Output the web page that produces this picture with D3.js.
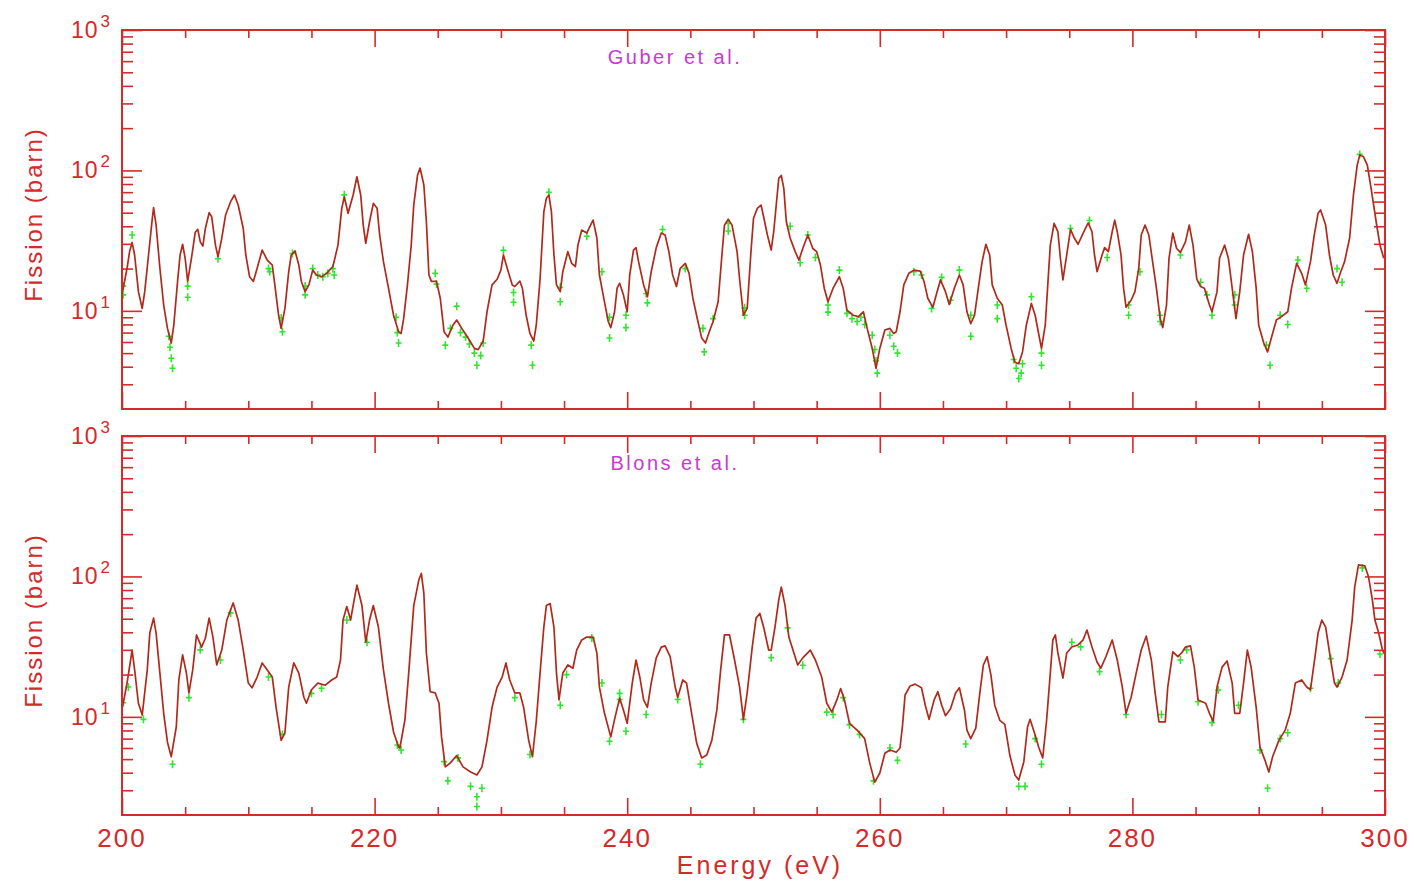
<!DOCTYPE html>
<html>
<head>
<meta charset="utf-8">
<script src="https://cdn.jsdelivr.net/npm/d3@7"></script>
<style>
  body { margin: 0; background: #fff; }
  svg { display: block; }
  text { font-family: "Liberation Sans", Arial, sans-serif; }
</style>
</head>
<body>
<svg id="chart" width="1417" height="884"></svg>
<script>
// fitted curve, Guber et al. panel: [energy (eV), fission (barn)]
const guberFit = [[200.0,13.5],[200.1,14.5],[200.4,20.1],[200.6,26.4],[200.8,30.7],[201.0,25],[201.3,13.7],[201.6,10.4],[201.8,13.7],[202.1,25],[202.4,45.6],[202.5,54.3],[202.7,40.8],[203.0,20.1],[203.3,11],[203.6,7.5],[203.9,5.9],[204.1,7.9],[204.4,16.2],[204.6,25],[204.8,29.8],[205.0,23.7],[205.2,16.2],[205.5,23.7],[205.8,36.3],[206.0,38],[206.2,31],[206.4,28.9],[206.6,38.6],[206.9,50],[207.1,46.8],[207.4,29.4],[207.6,24.3],[207.9,32.9],[208.2,48.1],[208.6,59.9],[208.9,66.8],[209.2,56.7],[209.6,38.6],[209.8,25],[210.1,17.5],[210.4,16.2],[210.7,20.1],[211.1,27.1],[211.5,23],[211.9,21.2],[212.1,15.3],[212.4,9.3],[212.6,7.5],[212.9,10.4],[213.2,19],[213.4,25],[213.7,26.7],[214.0,21.2],[214.2,16.2],[214.5,13.7],[214.8,15.3],[215.1,19.5],[215.4,18],[215.8,17.5],[216.2,18.5],[216.7,20.7],[217.1,29.4],[217.4,53.7],[217.6,64.9],[217.9,49.5],[218.3,66.8],[218.6,90.1],[218.9,66.8],[219.1,40.8],[219.3,30.2],[219.6,43.1],[219.9,58.3],[220.2,53.7],[220.4,34.7],[220.7,22.4],[221.1,14.5],[221.5,9.3],[221.9,7.1],[222.1,6.9],[222.3,8.8],[222.6,15.3],[222.9,29.4],[223.1,56.7],[223.4,92.7],[223.6,104],[223.9,78.7],[224.1,43.1],[224.3,18],[224.5,16.2],[224.9,16.2],[225.2,12.3],[225.5,7.1],[225.8,6.5],[226.2,7.9],[226.5,8.6],[226.9,7.5],[227.4,6.4],[227.9,5.4],[228.2,5.3],[228.6,6.1],[228.9,9.85],[229.3,15.3],[229.7,16.8],[230.0,19.5],[230.2,25],[230.5,20.1],[230.9,15.3],[231.1,14.9],[231.5,16.3],[231.7,14.5],[232.0,9.3],[232.3,6.9],[232.6,6.1],[232.8,7.9],[233.1,16.8],[233.4,50.8],[233.6,63.3],[233.8,66.8],[234.0,50.8],[234.2,25],[234.4,15.3],[234.7,13.7],[234.9,19],[235.3,26.4],[235.6,21.8],[235.9,20.7],[236.1,29.4],[236.4,37.6],[236.8,35.8],[237.1,40.8],[237.3,44.3],[237.6,33],[237.8,18],[238.2,11.6],[238.5,8.4],[238.7,7.6],[239.0,9.85],[239.2,14.5],[239.4,15.7],[239.7,13],[240.0,9.85],[240.2,18],[240.5,27.1],[240.7,28.2],[240.9,22.4],[241.3,15.3],[241.6,12.6],[241.9,19],[242.3,28.2],[242.7,35.8],[243.0,34.7],[243.3,26.4],[243.6,18],[243.9,14.9],[244.2,20.1],[244.6,21.8],[244.9,18.5],[245.2,12.3],[245.6,8.4],[245.9,6.4],[246.2,5.9],[246.5,7.1],[246.8,8.4],[247.2,11.6],[247.5,25],[247.7,40.8],[248.0,44.9],[248.3,40.8],[248.7,26.4],[248.9,16.8],[249.2,9.3],[249.5,10.4],[249.8,26.4],[250.0,45.6],[250.3,53.7],[250.6,56.7],[250.8,46.8],[251.1,34.7],[251.4,27.1],[251.6,36.6],[251.8,56.7],[252.0,87.8],[252.2,92],[252.4,74.5],[252.6,43.1],[252.9,33],[253.3,26.4],[253.6,23],[253.9,27.8],[254.3,34.7],[254.7,27.8],[255.0,26.4],[255.3,21.2],[255.6,14.5],[255.9,11.6],[256.3,14.5],[256.8,17.5],[257.1,14.5],[257.4,10.1],[257.9,9.3],[258.3,9.1],[258.7,9.85],[259.0,7.5],[259.4,5.4],[259.7,3.9],[260.0,5.4],[260.4,7.3],[260.8,7.5],[261.1,6.9],[261.3,7.1],[261.6,9.85],[261.9,15.3],[262.3,18.5],[262.7,19.5],[263.2,19.2],[263.5,16.2],[263.8,12.3],[264.2,10.6],[264.5,13.3],[264.8,16.6],[265.2,13.7],[265.5,11.1],[265.9,14.5],[266.3,18],[266.6,15.3],[266.9,9.85],[267.2,8.1],[267.5,9.3],[267.8,14.5],[268.1,22.4],[268.4,29.8],[268.7,25],[268.9,15.3],[269.3,12.3],[269.7,11],[270.0,7.9],[270.4,5.4],[270.7,4.3],[271.0,4.2],[271.3,5.1],[271.6,7.9],[272.0,11.3],[272.3,9.3],[272.6,6.7],[272.8,5.4],[273.1,7.9],[273.3,15.3],[273.5,29.4],[273.8,42],[274.1,36.6],[274.3,23.7],[274.5,16.6],[274.8,25],[275.1,38],[275.4,33],[275.7,29.8],[276.1,35.8],[276.5,42.3],[276.8,36.6],[277.0,25],[277.2,19],[277.6,25],[277.8,28.2],[278.1,26.4],[278.4,36.6],[278.6,44.3],[278.8,36.6],[279.1,25],[279.3,14.5],[279.5,10.6],[279.9,11.9],[280.2,13.7],[280.5,20.1],[280.7,34.7],[281.0,40.8],[281.3,34.7],[281.6,22.4],[281.9,14.5],[282.2,8.8],[282.4,7.6],[282.7,11],[282.9,23.7],[283.2,35.8],[283.5,27.8],[283.8,26.1],[284.2,31],[284.5,40.8],[284.8,29.4],[285.1,16.8],[285.4,14.9],[285.7,14.5],[286.1,11],[286.3,9.85],[286.7,13.7],[286.9,23.7],[287.3,29.4],[287.6,23.7],[287.9,14.5],[288.2,8.8],[288.5,13.7],[288.8,25],[289.2,35.1],[289.5,26.4],[289.8,14.5],[290.0,7.9],[290.4,5.9],[290.7,5.1],[291.0,6.4],[291.4,8.6],[291.8,9.1],[292.3,9.85],[292.6,14.5],[293.0,21.8],[293.4,18.5],[293.7,15.3],[294.1,22.4],[294.4,34.7],[294.7,49.5],[294.9,52.3],[295.3,40.8],[295.6,25],[295.9,18],[296.2,15.7],[296.5,19],[296.8,22.4],[297.2,33],[297.5,66.8],[297.8,109],[298.0,129],[298.3,125],[298.6,109],[298.9,74.5],[299.3,43.1],[299.6,29.4],[299.9,23.7]]

// measured points, Guber et al.
const guberData = [[200.1,15],[200.1,13],[200.8,34.7],[203.7,6.6],[203.8,5.5],[203.9,4.6],[204.0,3.9],[205.2,15],[205.2,12.5],[207.6,23.5],[211.6,20],[211.7,19],[212.6,8.9],[212.7,7.1],[213.5,25.6],[214.5,15],[214.5,13],[215.1,20],[215.5,18],[215.9,17.5],[216.3,18.5],[216.7,20],[216.8,18],[217.6,67],[221.7,9],[221.8,7],[221.9,5.9],[224.8,18.5],[224.9,15.5],[225.6,5.7],[226.0,7.5],[226.5,10.8],[226.8,7.0],[227.2,6.5],[227.5,5.8],[227.9,5.0],[228.1,4.1],[228.4,4.8],[228.6,5.9],[230.2,27],[231.0,13.5],[231.0,11.5],[232.4,5.7],[232.5,4.1],[233.8,70],[234.7,14.7],[234.7,11.6],[236.8,34],[238.0,19],[238.6,9],[238.6,6.4],[239.9,9.3],[239.9,7.6],[241.5,13.3],[241.6,11.4],[242.8,38],[244.6,20],[246.0,7.5],[246.1,5.1],[246.8,8.8],[248.0,42],[248.0,37],[249.3,10.5],[249.3,9.3],[252.9,40],[253.7,22],[254.3,34.7],[254.9,24],[255.9,11],[255.9,9.8],[256.8,19.5],[257.4,9.6],[257.8,8.8],[258.2,8.4],[258.5,9.0],[258.8,8.0],[259.4,6.7],[259.6,5.3],[259.7,4.4],[259.8,3.6],[260.8,6.7],[261.1,5.6],[261.4,5.0],[262.7,19],[263.3,18],[264.1,10.4],[264.9,17.3],[265.6,11.9],[266.3,19.5],[267.2,9.3],[267.2,6.6],[269.3,11],[269.3,8.8],[270.6,4.5],[270.8,3.9],[271.0,3.3],[271.2,3.6],[271.3,4.2],[272.0,12.6],[272.8,5.0],[272.8,4.1],[275.1,38.6],[276.6,44],[278.0,24],[279.7,11],[279.7,9.3],[280.6,19],[282.2,9.3],[282.2,8.4],[283.8,25],[285.4,16],[285.9,13],[286.3,9.3],[288.1,13],[288.1,11],[290.6,5.7],[290.9,4.1],[291.7,9.3],[292.3,8.0],[293.1,23],[293.8,14.5],[296.2,20],[296.6,16],[298.0,130]]

// fitted curve, Blons et al. panel
const blonsFit = [[200.0,11.5],[200.1,12.5],[200.4,17.4],[200.8,29.9],[201.0,21.6],[201.3,12.5],[201.6,10.3],[202.0,21.6],[202.2,39.5],[202.5,50.5],[202.7,39.5],[203.0,20.5],[203.3,10.6],[203.6,6.6],[203.9,5.2],[204.3,8.5],[204.5,18.3],[204.8,27.6],[205.1,20.5],[205.3,14.8],[205.6,21.6],[205.9,38.3],[206.3,31.4],[206.6,36.3],[206.9,50.5],[207.2,37],[207.5,23.4],[207.9,29.9],[208.3,48.9],[208.8,64.7],[209.2,48.9],[209.6,29.9],[210.0,17.4],[210.3,16.1],[210.7,19.2],[211.1,24.2],[211.5,21.6],[211.9,19.2],[212.2,11.7],[212.6,6.8],[212.9,7.7],[213.2,16.3],[213.6,24.2],[214.0,20.5],[214.4,13.8],[214.6,12.5],[215.0,15.6],[215.5,17.4],[216.1,16.8],[216.6,18.3],[217.0,19.2],[217.3,25.4],[217.5,48.9],[217.8,61],[218.1,48.9],[218.3,62],[218.6,86.7],[219.0,62],[219.3,34.1],[219.6,48.9],[219.9,62],[220.3,43.6],[220.7,21.6],[221.1,12.5],[221.5,7.8],[221.9,6.1],[222.0,6.0],[222.4,9.5],[222.7,20.5],[223.1,62],[223.5,94.2],[223.7,105],[223.9,76],[224.1,28.5],[224.4,15.1],[224.8,14.8],[225.1,12.5],[225.3,7.2],[225.6,4.4],[226.0,4.7],[226.5,5.3],[227.0,4.4],[227.6,4.05],[228.1,3.85],[228.5,4.4],[228.9,6.8],[229.3,11.7],[229.7,16.3],[230.1,19.2],[230.4,24.2],[230.7,18.3],[231.1,14.8],[231.5,14.8],[231.8,11.7],[232.2,6.8],[232.5,5.2],[232.8,9.3],[233.1,20.5],[233.4,43.6],[233.6,62],[233.9,64.1],[234.2,43.6],[234.4,20.5],[234.6,13.2],[234.9,20.5],[235.3,23.4],[235.7,22.2],[236.0,29.9],[236.4,35.3],[236.8,37],[237.3,37],[237.6,28.5],[237.8,16.3],[238.2,10.6],[238.7,7.2],[239.0,9.6],[239.4,13.6],[239.7,11.2],[240.0,9.0],[240.4,17.4],[240.7,25.4],[241.0,19.2],[241.3,13.2],[241.6,11.7],[241.9,17.4],[242.3,26.3],[242.7,31.4],[243.0,32],[243.4,26.8],[243.8,16.3],[244.0,13.8],[244.4,18.3],[244.7,17.4],[245.1,10.6],[245.5,6.5],[245.9,5.1],[246.3,5.35],[246.7,6.8],[247.1,11.2],[247.4,21.6],[247.7,38.3],[248.1,38.3],[248.5,25.4],[248.9,16.3],[249.2,9.6],[249.5,14.8],[249.9,31.4],[250.2,50.5],[250.5,54.5],[250.8,43.6],[251.2,29.9],[251.4,29.9],[251.7,43.6],[252.0,68],[252.2,83.9],[252.5,62],[252.8,37],[253.2,28.5],[253.5,23.4],[253.9,26.3],[254.5,29.9],[254.9,25.4],[255.4,19.2],[255.8,12.5],[256.2,10.8],[256.6,13.2],[256.9,15.9],[257.2,13.2],[257.6,9.0],[258.2,8.05],[258.8,7.0],[259.2,4.7],[259.6,3.43],[260.0,3.98],[260.4,5.5],[260.8,5.8],[261.3,5.6],[261.6,6.0],[261.8,8.7],[262.0,14.3],[262.4,16.6],[262.8,17.1],[263.3,16.1],[263.6,12.1],[263.9,9.6],[264.3,13.2],[264.6,15.1],[264.9,12.1],[265.2,10.2],[265.6,11.4],[266.0,14.8],[266.3,16.1],[266.7,11.2],[266.9,8.05],[267.2,7.0],[267.6,8.3],[267.9,14.3],[268.2,23.4],[268.5,26.8],[268.8,19.8],[269.1,12.1],[269.5,9.45],[269.9,8.85],[270.3,5.3],[270.7,3.85],[271.0,3.55],[271.4,4.77],[271.7,8.5],[271.9,9.6],[272.3,7.4],[272.6,6.0],[272.9,5.1],[273.2,9.3],[273.5,20.5],[273.7,35.3],[273.9,38.3],[274.1,28.5],[274.5,18.9],[274.8,28.5],[275.2,31.4],[275.7,32.5],[276.1,35.3],[276.4,41.5],[276.8,31.4],[277.2,24.6],[277.5,22.2],[277.9,26.8],[278.4,35.3],[278.8,25.4],[279.2,16.3],[279.5,10.6],[279.9,13.8],[280.3,20.5],[280.7,29.9],[281.1,37.6],[281.5,25.4],[281.8,14.8],[282.1,9.2],[282.6,9.2],[282.8,16.3],[283.2,29],[283.6,26.8],[283.9,28.5],[284.2,31.4],[284.6,32],[284.9,22.6],[285.2,13.2],[285.8,12.5],[286.1,10.6],[286.4,9.3],[286.7,16.3],[287.1,22.6],[287.5,25],[287.9,17.4],[288.1,10.6],[288.5,10.6],[288.8,17.4],[289.1,29.9],[289.4,22.6],[289.8,11.7],[290.1,6.1],[290.5,4.9],[290.8,4.05],[291.1,5.2],[291.6,6.8],[292.1,8.05],[292.5,10.6],[292.9,17.4],[293.4,18.3],[293.8,16.3],[294.1,15.6],[294.5,28.5],[294.7,39.5],[295.0,48.9],[295.3,43.6],[295.7,25.4],[296.0,17.4],[296.2,16.3],[296.6,19.2],[297.0,25.4],[297.4,48.9],[297.6,83.9],[297.9,121],[298.4,119],[298.7,99],[299.0,68],[299.2,48.9],[299.5,39.5],[299.8,29.9],[300.0,27.6]]

// measured points, Blons et al.
const blonsData = [[200.1,12.6],[200.5,16.3],[201.7,9.6],[204.0,4.6],[205.3,13.7],[206.2,30],[207.8,25.4],[208.6,55],[211.6,19.2],[212.7,7.5],[215.0,14.7],[215.8,16],[217.8,49],[219.4,34],[221.8,6.3],[222.1,5.8],[225.5,4.8],[225.8,3.5],[226.6,5.1],[227.6,3.2],[228.1,2.7],[228.1,2.3],[228.5,3.1],[231.1,13.7],[232.3,5.4],[234.7,12.1],[235.2,20],[237.2,36.4],[238.0,17.4],[238.6,6.7],[239.4,14.7],[239.4,13.3],[239.9,7.9],[241.5,10.4],[244.0,13.3],[245.8,4.6],[249.2,9.6],[251.4,26.4],[252.7,43],[253.9,23.3],[255.8,10.8],[256.3,10.4],[257.1,13.7],[257.6,8.8],[258.4,7.5],[259.5,3.5],[260.8,6.0],[261.4,4.9],[266.8,6.4],[271.0,3.2],[271.5,3.2],[272.3,7.0],[272.8,4.6],[275.2,34],[275.9,31.5],[277.4,21],[279.5,10.4],[282.3,10.4],[283.8,25.4],[284.3,30],[285.2,12.8],[286.3,9.1],[286.8,15.5],[288.4,12.1],[290.1,5.8],[290.7,3.1],[291.7,7.0],[292.3,7.7],[294.1,16],[295.7,26],[296.3,17.4],[298.2,115],[299.6,28]]

const majorX = [200, 220, 240, 260, 280, 300]
const minorX = d3.range(205, 300, 5).filter(d => d % 20 !== 0)
const majorY = [10, 100, 1000]
const minorY = [3, 4, 5, 6, 7, 8, 9, 20, 30, 40, 50, 60, 70, 80, 90, 200, 300, 400, 500, 600, 700, 800, 900]

const red = '#d42a2a'
const lineRed = '#b02a1c'
const green = '#2fe62f'
const magenta = '#c83ad2'

const svg = d3.select('#chart')
const x = d3.scaleLinear().domain([200, 300]).range([122, 1385])

const panels = [
  { top: 30, bottom: 409, title: 'Guber et al.', fit: guberFit, data: guberData },
  { top: 436, bottom: 815, title: 'Blons et al.', fit: blonsFit, data: blonsData },
]

panels.forEach((p, i) => drawPanel(p, i))

function drawPanel(p, i) {
  const y = d3.scaleLog().domain([2, 1000]).range([p.bottom, p.top])
  const g = svg.append('g')

  g.append('clipPath').attr('id', `clip${i}`)
    .append('rect').attr('x', 122).attr('y', p.top).attr('width', 1263).attr('height', p.bottom - p.top)

  const plot = g.append('g').attr('clip-path', `url(#clip${i})`)

  plot.selectAll('path.pt')
    .data(p.data)
    .enter()
    .append('path')
    .attr('class', 'pt')
    .attr('d', d => {
      const px = x(d[0]), py = y(d[1])
      return `M${px - 3},${py}h6M${px},${py - 4}v8`
    })
    .attr('stroke', green)
    .attr('stroke-width', 1.6)
    .attr('fill', 'none')

  const line = d3.line().x(d => x(d[0])).y(d => y(d[1]))
  plot.append('path')
    .datum(p.fit)
    .attr('d', line)
    .attr('fill', 'none')
    .attr('stroke', lineRed)
    .attr('stroke-width', 1.7)
    .attr('stroke-linejoin', 'round')

  // inward ticks on all four sides
  const tick = (gen, values, size, tx, ty) => {
    g.append('g')
      .attr('transform', `translate(${tx},${ty})`)
      .call(gen.tickValues(values).tickSize(size).tickFormat(''))
      .call(s => s.select('.domain').remove())
      .call(s => s.selectAll('line').attr('stroke', red).attr('stroke-width', 1.6))
  }
  tick(d3.axisBottom(x), minorX, -8, 0, p.bottom)
  tick(d3.axisBottom(x), majorX, -17, 0, p.bottom)
  tick(d3.axisTop(x), minorX, -8, 0, p.top)
  tick(d3.axisTop(x), majorX, -17, 0, p.top)
  tick(d3.axisLeft(y), minorY, -11, 122, 0)
  tick(d3.axisLeft(y), majorY, -20, 122, 0)
  tick(d3.axisRight(y), minorY, -11, 1385, 0)
  tick(d3.axisRight(y), majorY, -20, 1385, 0)

  g.append('rect')
    .attr('x', 122).attr('y', p.top)
    .attr('width', 1263).attr('height', p.bottom - p.top)
    .attr('fill', 'none').attr('stroke', red).attr('stroke-width', 2)

  majorY.forEach(v => {
    const t = g.append('text')
      .attr('x', 111).attr('y', y(v) + 8)
      .attr('text-anchor', 'end')
      .attr('fill', red)
      .style('font-size', '23px')
      .style('letter-spacing', '1px')
    t.append('tspan').text('10')
    t.append('tspan').attr('dx', 2).attr('dy', -11).style('font-size', '17px').text(Math.log10(v))
  })

  g.append('text')
    .attr('transform', `translate(42,${(p.top + p.bottom) / 2 - 5}) rotate(-90)`)
    .attr('text-anchor', 'middle')
    .attr('fill', red)
    .style('font-size', '24px')
    .style('letter-spacing', '2px')
    .text('Fission (barn)')

  g.append('text')
    .attr('x', 675).attr('y', p.top + 34)
    .attr('text-anchor', 'middle')
    .attr('fill', magenta)
    .style('font-size', '20px')
    .style('letter-spacing', '2.5px')
    .text(p.title)

  if (i === 1) {
    majorX.forEach(v => {
      g.append('text')
        .attr('x', x(v)).attr('y', 847)
        .attr('text-anchor', 'middle')
        .attr('fill', red)
        .style('font-size', '26px')
        .style('letter-spacing', '2px')
        .text(v)
    })
    g.append('text')
      .attr('x', 760).attr('y', 874)
      .attr('text-anchor', 'middle')
      .attr('fill', red)
      .style('font-size', '25px')
      .style('letter-spacing', '3px')
      .text('Energy (eV)')
  }
}
</script>
</body>
</html>
